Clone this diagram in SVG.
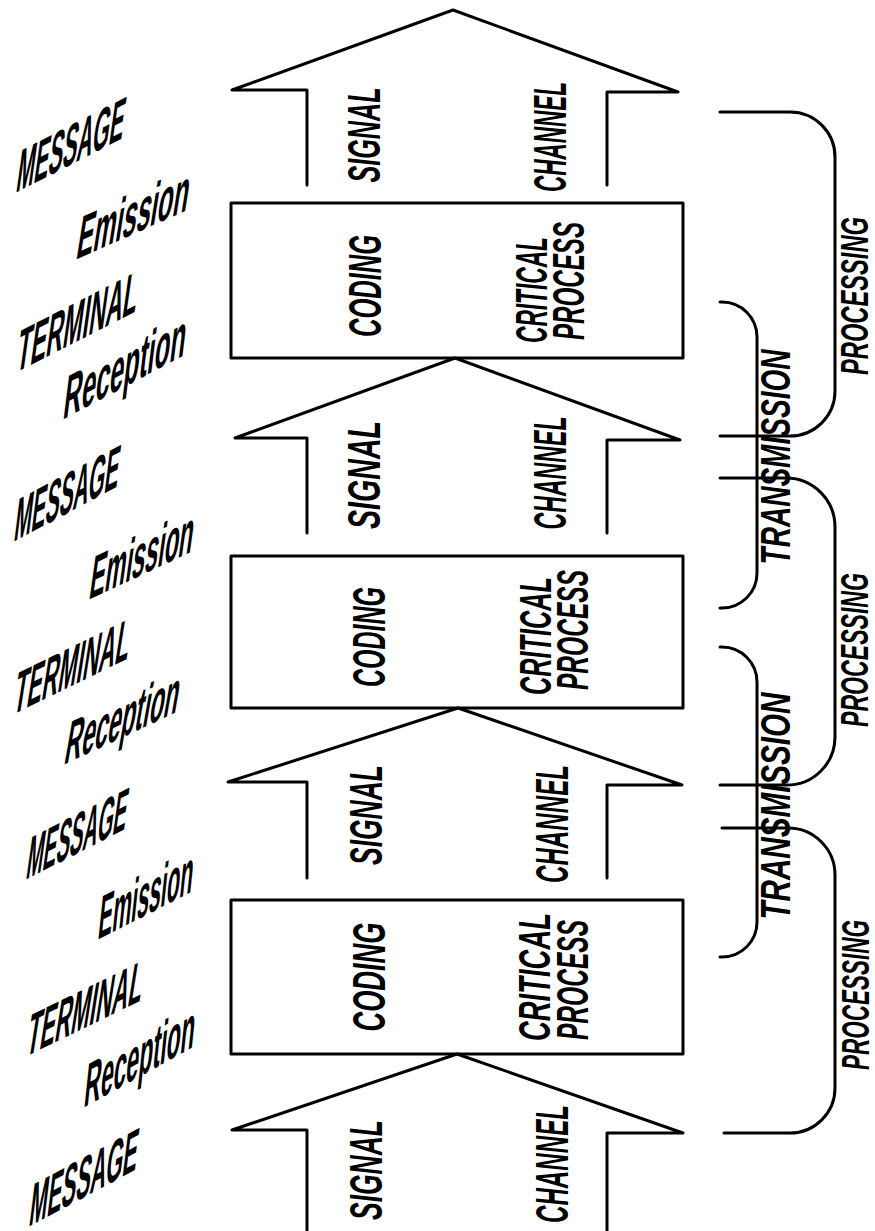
<svg xmlns="http://www.w3.org/2000/svg" width="875" height="1231" viewBox="0 0 875 1231">
<style>
.ln{fill:none;stroke:#000;stroke-width:3;stroke-linejoin:round;stroke-linecap:round}
.v{font-family:"Liberation Sans",Arial,sans-serif;font-weight:bold;font-style:italic;fill:#000;text-anchor:middle}
.l{font-family:"Liberation Sans",Arial,sans-serif;font-weight:bold;fill:#000}
</style>
<rect width="875" height="1231" fill="#fff"/>

<g id="arrow1">
<path class="ln" d="M307,185 V90 H232 L453,10 L678,92 H607 V185"/>
<text class="v" font-size="46" transform="translate(380,135) rotate(-90)" textLength="95" lengthAdjust="spacingAndGlyphs">SIGNAL</text>
<text class="v" font-size="46" transform="translate(566,137) rotate(-90)" textLength="110" lengthAdjust="spacingAndGlyphs">CHANNEL</text>
</g>
<g id="box1">
<rect class="ln" x="231" y="203" width="452" height="155"/>
<text class="v" font-size="46" transform="translate(381,286) rotate(-90)" textLength="102" lengthAdjust="spacingAndGlyphs">CODING</text>
<text class="v" font-size="44" transform="translate(547,290) rotate(-90)" textLength="106" lengthAdjust="spacingAndGlyphs">CRITICAL</text>
<text class="v" font-size="44" transform="translate(584,281) rotate(-90)" textLength="118" lengthAdjust="spacingAndGlyphs">PROCESS</text>
</g>

<g id="arrow2">
<path class="ln" d="M307,533 V438 H235 L455,358 L680,440 H607 V533"/>
<text class="v" font-size="46" transform="translate(380,475) rotate(-90)" textLength="108" lengthAdjust="spacingAndGlyphs">SIGNAL</text>
<text class="v" font-size="46" transform="translate(566,473) rotate(-90)" textLength="113" lengthAdjust="spacingAndGlyphs">CHANNEL</text>
</g>
<g id="box2">
<rect class="ln" x="231" y="556" width="452" height="152"/>
<text class="v" font-size="46" transform="translate(385,637) rotate(-90)" textLength="100" lengthAdjust="spacingAndGlyphs">CODING</text>
<text class="v" font-size="44" transform="translate(551,636) rotate(-90)" textLength="118" lengthAdjust="spacingAndGlyphs">CRITICAL</text>
<text class="v" font-size="44" transform="translate(588,630) rotate(-90)" textLength="120" lengthAdjust="spacingAndGlyphs">PROCESS</text>
</g>

<g id="arrow3">
<path class="ln" d="M307,878 V782 H228 L458,708 L682,785 H607 V878"/>
<text class="v" font-size="46" transform="translate(382,815) rotate(-90)" textLength="100" lengthAdjust="spacingAndGlyphs">SIGNAL</text>
<text class="v" font-size="46" transform="translate(568,824) rotate(-90)" textLength="118" lengthAdjust="spacingAndGlyphs">CHANNEL</text>
</g>
<g id="box3">
<rect class="ln" x="231" y="900" width="452" height="154"/>
<text class="v" font-size="46" transform="translate(385,977) rotate(-90)" textLength="109" lengthAdjust="spacingAndGlyphs">CODING</text>
<text class="v" font-size="44" transform="translate(550,977) rotate(-90)" textLength="128" lengthAdjust="spacingAndGlyphs">CRITICAL</text>
<text class="v" font-size="44" transform="translate(588,980) rotate(-90)" textLength="120" lengthAdjust="spacingAndGlyphs">PROCESS</text>
</g>

<g id="arrow4">
<path class="ln" d="M307,1233 V1130 H232 L457,1054 L683,1133 H607 V1233"/>
<text class="v" font-size="46" transform="translate(382,1170) rotate(-90)" textLength="100" lengthAdjust="spacingAndGlyphs">SIGNAL</text>
<text class="v" font-size="46" transform="translate(568,1164) rotate(-90)" textLength="118" lengthAdjust="spacingAndGlyphs">CHANNEL</text>
</g>

<g id="connectors">
<path class="ln" d="M720,112 H790 A45,45 0 0 1 835,157 V391 A45,45 0 0 1 790,436 H720"/>
<path class="ln" d="M720,302 H722 A35,35 0 0 1 757,337 V573 A35,35 0 0 1 722,608 H720"/>
<path class="ln" d="M720,478 H786 A49,49 0 0 1 835,527 V737 A48,48 0 0 1 787,785 H720"/>
<path class="ln" d="M720,647 H722 A35,35 0 0 1 757,682 V922 A35,35 0 0 1 722,957 H720"/>
<path class="ln" d="M722,828 H788 A47,47 0 0 1 835,875 V1088 A45,45 0 0 1 790,1133 H724"/>
</g>

<g id="processing1"><text class="v" font-size="38" transform="translate(868,296) rotate(-90)" textLength="158" lengthAdjust="spacingAndGlyphs">PROCESSING</text></g>
<g id="transmission1"><text class="v" font-size="42" transform="translate(790,457) rotate(-90)" textLength="215" lengthAdjust="spacingAndGlyphs">TRANSMISSION</text></g>
<g id="processing2"><text class="v" font-size="38" transform="translate(868,650) rotate(-90)" textLength="154" lengthAdjust="spacingAndGlyphs">PROCESSING</text></g>
<g id="transmission2"><text class="v" font-size="42" transform="translate(790,806) rotate(-90)" textLength="227" lengthAdjust="spacingAndGlyphs">TRANSMISSION</text></g>
<g id="processing3"><text class="v" font-size="38" transform="translate(869,995) rotate(-90)" textLength="150" lengthAdjust="spacingAndGlyphs">PROCESSING</text></g>

<g id="labels1">
<text class="l" font-size="51" transform="translate(15,193) rotate(-27) skewX(-35)" textLength="120" lengthAdjust="spacingAndGlyphs">MESSAGE</text>
<text class="l" font-size="53" transform="translate(75,260) rotate(-24) skewX(-33)" textLength="122" lengthAdjust="spacingAndGlyphs">Emission</text>
<text class="l" font-size="51" transform="translate(15,373) rotate(-27) skewX(-35)" textLength="135" lengthAdjust="spacingAndGlyphs">TERMINAL</text>
<text class="l" font-size="52" transform="translate(62,420) rotate(-28) skewX(-35)" textLength="138" lengthAdjust="spacingAndGlyphs">Reception</text>
</g>
<g id="labels2">
<text class="l" font-size="51" transform="translate(13,542) rotate(-28) skewX(-35)" textLength="118" lengthAdjust="spacingAndGlyphs">MESSAGE</text>
<text class="l" font-size="53" transform="translate(88,600) rotate(-25) skewX(-33)" textLength="114" lengthAdjust="spacingAndGlyphs">Emission</text>
<text class="l" font-size="51" transform="translate(12,715) rotate(-26) skewX(-35)" textLength="128" lengthAdjust="spacingAndGlyphs">TERMINAL</text>
<text class="l" font-size="52" transform="translate(63,765) rotate(-25) skewX(-35)" textLength="125" lengthAdjust="spacingAndGlyphs">Reception</text>
</g>
<g id="labels3">
<text class="l" font-size="51" transform="translate(25,880) rotate(-27) skewX(-35)" textLength="112" lengthAdjust="spacingAndGlyphs">MESSAGE</text>
<text class="l" font-size="53" transform="translate(97,940) rotate(-27) skewX(-33)" textLength="106" lengthAdjust="spacingAndGlyphs">Emission</text>
<text class="l" font-size="51" transform="translate(25,1057) rotate(-26) skewX(-35)" textLength="128" lengthAdjust="spacingAndGlyphs">TERMINAL</text>
<text class="l" font-size="52" transform="translate(83,1108) rotate(-29) skewX(-35)" textLength="126" lengthAdjust="spacingAndGlyphs">Reception</text>
</g>
<g id="labels4">
<text class="l" font-size="51" transform="translate(28,1227) rotate(-28) skewX(-35)" textLength="122" lengthAdjust="spacingAndGlyphs">MESSAGE</text>
</g>
</svg>
